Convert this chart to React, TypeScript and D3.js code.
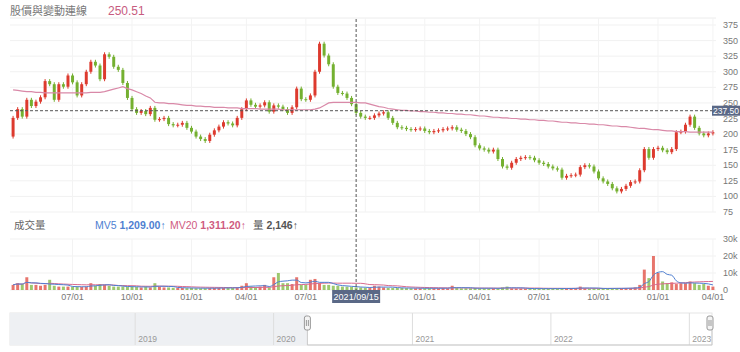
import React from 'react';
import * as d3 from 'd3';

// weekly closes (2020/03/30 .. 2023/03/27)
const firstOpen = 196;
const closes = [
  226, 240, 228, 255, 245, 252, 259, 285, 280, 255,
  280, 276, 294, 283, 262, 280, 300, 316, 310, 288,
  328, 324, 308, 303, 282, 258, 240, 234, 237, 232,
  242, 223, 224, 226, 216, 214, 215, 218, 210, 204,
  196, 192, 189, 199, 206, 212, 219, 217, 214, 226,
  240, 254, 247, 244, 246, 251, 236, 246, 244, 240,
  234, 243, 273, 256, 255, 262, 300, 345, 326, 312,
  276, 266, 265, 258, 248, 234, 228, 226, 226, 230,
  233, 235, 226, 218, 211, 210, 208, 207, 208, 209,
  205, 203, 205, 206, 208, 209, 211, 207, 205, 200,
  195, 182, 177, 175, 172, 175, 160, 148, 146, 154,
  160, 162, 163, 162, 158, 154, 152, 148, 145, 143,
  130, 133, 134, 135, 147, 150, 148, 140, 129, 124,
  120, 113, 108, 112, 117, 123, 124, 142, 176, 162,
  176, 178, 174, 171, 176, 203, 204, 215, 228, 210,
  201, 198, 201, 203,
];

// pink long moving-average line
const trendLine = [
  271, 270, 269, 268, 268, 267, 267, 266, 266, 266,
  266, 266, 266, 266, 266, 266, 266, 267, 267, 267,
  268, 270, 272, 274, 276, 273, 271, 268, 265, 261,
  258, 251, 250, 250, 249, 249, 248, 247, 246, 246,
  245, 245, 244, 244, 243, 243, 243, 242, 242, 242,
  241, 241, 241, 241, 240, 240, 240, 240, 240, 239,
  239, 239, 239, 239, 239, 239, 240, 242, 246, 250,
  251, 251, 251, 251, 251, 251, 250, 250, 248, 246,
  244, 243, 241, 240, 239, 238, 238, 237, 237, 236,
  236, 235, 235, 234, 234, 233, 233, 232, 232, 231,
  231, 230, 229, 229, 228, 227, 227, 226, 226, 225,
  225, 224, 224, 223, 223, 222, 222, 221, 221, 220,
  219, 219, 218, 218, 217, 217, 216, 216, 215, 215,
  214, 213, 213, 212, 212, 211, 210, 209, 209, 208,
  207, 207, 206, 205, 205, 204, 204, 204, 203, 203,
  203, 203, 203, 203,
];

// volume in thousands
const volumes = [
  3, 4, 3.5, 7.5, 3, 3, 2.5, 3, 6, 2.5,
  2, 2, 2, 1.8, 2, 1.8, 2, 4, 2.5, 3.5,
  3, 2.5, 2, 2, 2, 1.8, 2, 1.8, 1.5, 2,
  1.5, 4, 2, 1.5, 1.5, 1.3, 1.2, 1.2, 1.1, 1.2,
  1, 1, 1, 1.1, 1.2, 1.2, 1.3, 1.2, 1.2, 1.5,
  2.5, 4, 2, 1.8, 2, 3, 1.5, 7.5, 10, 4,
  4, 3.5, 7.5, 3, 3, 6, 6.5, 4, 3, 3,
  2.5, 2.5, 2, 2, 1.8, 1.5, 1.5, 1.3, 1.3, 2.5,
  2, 1.5, 1.2, 1.2, 1.2, 1.2, 1.1, 1, 1, 1,
  1, 1.1, 1, 1, 1.1, 1, 2.5, 1.2, 1, 1,
  1, 1.2, 1, 1, 1, 1, 0.9, 1.5, 2, 1,
  0.9, 0.9, 0.8, 0.8, 0.8, 0.8, 0.8, 0.8, 0.8, 0.9,
  0.9, 0.9, 1, 1, 2, 1, 0.9, 0.9, 0.9, 0.9,
  0.9, 1, 1, 1, 1.1, 1.2, 1.5, 3, 12, 7,
  20, 10, 5, 4, 4.5, 3.5, 4, 4, 5, 4,
  3, 3.5, 2.5, 2,
];

const closedWeeks = ['2021-02-08', '2022-01-31', '2023-01-23'];
const quarterTicks = [
  '2020-07-01', '2020-10-01', '2021-01-01', '2021-04-01', '2021-07-01', '2021-10-01',
  '2022-01-01', '2022-04-01', '2022-07-01', '2022-10-01', '2023-01-01', '2023-04-01',
];
const priceTicks = [75, 100, 125, 150, 175, 200, 225, 250, 275, 300, 325, 350, 375];
const volumeTicks = [0, 10, 20, 30];
const volumeTickLabels = ['0', '10k', '20k', '30k'];
const navYears = [2019, 2020, 2021, 2022, 2023];
const hoverDate = '2021-09-15';
const hoverPrice = 237.5;

const fmt = d3.timeFormat('%Y-%m-%d');
const parse = d3.timeParse('%Y-%m-%d');
const weeks = d3.timeMonday
  .range(new Date(2020, 2, 30), new Date(2023, 3, 1))
  .filter(d => !closedWeeks.includes(fmt(d)));

const weekOf = (s: string) => {
  const d = parse(s)!;
  return weeks.findIndex(w => w <= d && d < d3.timeDay.offset(w, 7));
};

const UP = '#dd3a2e';
const DOWN = '#74b030';
const BOX = '#5a6886';
const FONT = "'Liberation Sans', 'Noto Sans CJK TC', sans-serif";

const App = () => {
  const x = d3.scaleBand<number>().domain(d3.range(weeks.length)).range([10, 716]).padding(0.35);
  const bw = x.bandwidth();
  const cx = (i: number) => x(i)! + bw / 2;
  const y = d3.scaleLinear().domain([75, 375]).range([212, 25]);
  const yv = d3.scaleLinear().domain([0, 30]).range([290, 239]);
  const navX = d3.scaleTime().domain([new Date(2018, 1, 5), new Date(2023, 3, 5)]).range([10, 725]);

  const opens = closes.map((c, i) => (i === 0 ? firstOpen : closes[i - 1]));
  const ma = (n: number) =>
    volumes.map((_, i) => d3.mean(volumes.slice(Math.max(0, i - n + 1), i + 1))!);

  const trendPath = d3.line<number>().x((_, i) => cx(i)).y(v => y(v))(trendLine)!;
  const volLine = d3.line<number>().x((_, i) => cx(i)).y(v => yv(v)).curve(d3.curveMonotoneX);

  const hx = cx(weekOf(hoverDate));
  const hy = y(hoverPrice);
  const navLeft = navX(weeks[0]);
  const navRight = 712;

  return (
    <svg width={740} height={352} style={{ position: 'absolute', left: 0, top: 0, fontFamily: FONT }}>
      <rect width={740} height={352} fill="#fff" />
      <text x={10} y={15} fontSize={11} fill="#777">股價與變動連線</text>
      <text x={108} y={15} fontSize={12} fill="#c75b80">250.51</text>
      <line x1={10} x2={716} y1={18} y2={18} stroke="#ececec" />

      {/* grid */}
      {priceTicks.map(t => (
        <g key={t}>
          <line x1={10} x2={716} y1={y(t)} y2={y(t)} stroke="#f1f1f1" />
          <text x={723} y={y(t) + 3} fontSize={9} fill="#777">{t}</text>
        </g>
      ))}
      {volumeTicks.map((t, k) => (
        <g key={t}>
          <line x1={10} x2={716} y1={yv(t)} y2={yv(t)} stroke="#f1f1f1" />
          <text x={723} y={yv(t) + 3} fontSize={9} fill="#777">{volumeTickLabels[k]}</text>
        </g>
      ))}
      {quarterTicks.map(q => {
        const px = cx(weekOf(q));
        return (
          <g key={q}>
            <line x1={px} x2={px} y1={18} y2={212} stroke="#f3f3f3" />
            <line x1={px} x2={px} y1={239} y2={290} stroke="#f3f3f3" />
            {Math.abs(px - hx) > 40 && (
              <text x={px} y={300} fontSize={9} fill="#777" textAnchor="middle">
                {q.slice(5, 7) + '/' + q.slice(8)}
              </text>
            )}
          </g>
        );
      })}

      {/* candles */}
      {closes.map((c, i) => {
        const o = opens[i];
        const col = c >= o ? UP : DOWN;
        const top = y(Math.max(o, c));
        const bot = y(Math.min(o, c));
        return (
          <g key={i}>
            <line x1={cx(i)} x2={cx(i)} y1={top - 2} y2={bot + 2} stroke={col} strokeWidth={1} />
            <rect x={x(i)} y={top} width={bw} height={Math.max(1, bot - top)} fill={col} />
          </g>
        );
      })}
      <path d={trendPath} fill="none" stroke="#d989a8" strokeWidth={1.2} />

      {/* volume */}
      <text x={14} y={229} fontSize={10.5} fill="#666">成交量</text>
      <text x={95} y={229} fontSize={10.5} fill="#4f7fd1">MV5 <tspan fontWeight="bold">1,209.00</tspan>↑</text>
      <text x={170} y={229} fontSize={10.5} fill="#cf5b7f">MV20 <tspan fontWeight="bold">1,311.20</tspan>↑</text>
      <text x={253} y={229} fontSize={10.5} fill="#555">量 <tspan fontWeight="bold">2,146</tspan>↑</text>
      {volumes.map((v, i) => (
        <rect key={i} x={x(i)} y={yv(v)} width={bw} height={290 - yv(v)}
          fill={closes[i] >= opens[i] ? UP : DOWN} opacity={0.7} />
      ))}
      <path d={volLine(ma(20))!} fill="none" stroke="#d96a8e" strokeWidth={1} />
      <path d={volLine(ma(5))!} fill="none" stroke="#4f7fd1" strokeWidth={1} />

      {/* crosshair */}
      <line x1={hx} x2={hx} y1={19} y2={291} stroke="#555" strokeDasharray="3,2" />
      <line x1={10} x2={712} y1={hy} y2={hy} stroke="#555" strokeDasharray="3,2" />
      <rect x={712} y={hy - 5} width={28} height={10} fill={BOX} />
      <text x={713} y={hy + 3} fontSize={8.5} fill="#fff">{hoverPrice.toFixed(2)}</text>
      <rect x={hx - 24} y={290} width={48} height={13} fill={BOX} />
      <text x={hx} y={300} fontSize={9} fill="#fff" textAnchor="middle">{hoverDate.replace(/-/g, '/')}</text>

      {/* navigator */}
      <rect x={10} y={313} width={702} height={32} fill="#fff" stroke="#e6e6e6" />
      <rect x={10} y={313} width={navLeft - 10} height={32} fill="#eef0f3" />
      {navYears.map(yr => {
        const px = navX(new Date(yr, 0, 1));
        return (
          <g key={yr}>
            <line x1={px} x2={px} y1={313} y2={345} stroke="#dedede" />
            <text x={px + 3} y={342} fontSize={8.5} fill="#999">{yr}</text>
          </g>
        );
      })}
      <path d={`M${navLeft},320V345H${navRight}V320`} fill="none" stroke="#c9c9c9" />
      {[navLeft, navRight - 2].map(hxn => (
        <g key={hxn}>
          <rect x={hxn - 3} y={316} width={6} height={14} rx={2} fill="#f4f4f4" stroke="#999" />
          <line x1={hxn - 1} x2={hxn - 1} y1={320} y2={326} stroke="#999" />
          <line x1={hxn + 1} x2={hxn + 1} y1={320} y2={326} stroke="#999" />
        </g>
      ))}
    </svg>
  );
};

export default App;
